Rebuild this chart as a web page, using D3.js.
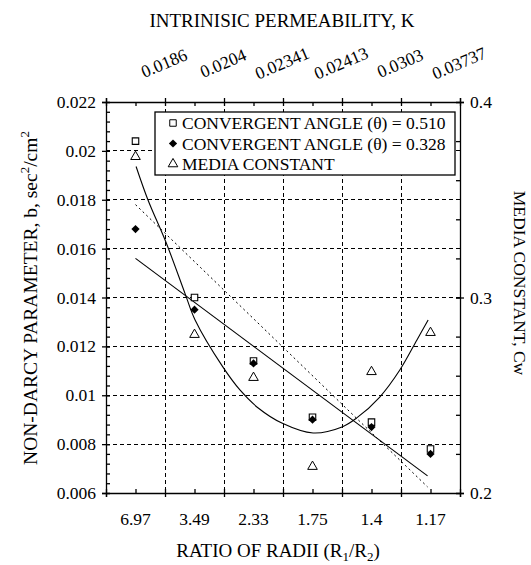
<!DOCTYPE html>
<html>
<head>
<meta charset="utf-8">
<script src="https://cdn.jsdelivr.net/npm/d3@7"></script>
<style>
  body { margin: 0; background: #fff; }
  svg text { font-family: "Liberation Serif", "DejaVu Serif", serif; fill: #000; }
</style>
</head>
<body>
<div id="chart"></div>
<script>
// ratio of radii (bottom axis) and permeability (top axis)
var ratioLabels = ["6.97", "3.49", "2.33", "1.75", "1.4", "1.17"];
var permLabels = ["0.0186", "0.0204", "0.02341", "0.02413", "0.0303", "0.03737"];

// non-darcy parameter b, left axis
var bTheta510 = [0.0204, 0.0140, 0.0114, 0.0091, 0.0089, 0.0078];
var bTheta328 = [0.0168, 0.0135, 0.0113, 0.0090, 0.0087, 0.0076];
// media constant Cw, right axis
var mediaConst = [0.372, 0.281, 0.259, 0.2135, 0.262, 0.282];

// trend lines (ends at first and last ratio)
var fitEnds = [0.5, 5.45];
var fit510 = [0.0178, 0.00625];
var fit328 = [0.0156, 0.0067];
// fitted curve of media constant
var curvePos = [0.51, 0.71, 1.02, 1.34, 1.51, 1.98, 2.27, 2.58, 2.98, 3.51, 4.0, 4.25, 4.64, 4.98, 5.27, 5.46];
var curveCw  = [0.367, 0.350, 0.328, 0.302, 0.2885, 0.2645, 0.2527, 0.2435, 0.2358, 0.2307, 0.2338, 0.2384, 0.2491, 0.2629, 0.2783, 0.2885];

var W = 531, H = 565;
var pLeft = 106, pRight = 460, pTop = 102, pBottom = 493;

var svg = d3.select("#chart").append("svg")
    .attr("width", W)
    .attr("height", H);

var x = d3.scaleLinear().domain([0, 6]).range([pLeft, pRight]);
var y = d3.scaleLinear().domain([0.006, 0.022]).range([pBottom, pTop]);
var y2 = d3.scaleLinear().domain([0.2, 0.4]).range([pBottom, pTop]);

var fs = 17;

// grid
var grid = svg.append("g")
    .attr("stroke", "#000")
    .attr("stroke-width", 1)
    .attr("stroke-dasharray", "4,3")
    .attr("shape-rendering", "crispEdges");
d3.range(1, 6).forEach(function(i) {
    grid.append("line")
        .attr("x1", x(i)).attr("x2", x(i))
        .attr("y1", pTop).attr("y2", pBottom);
});
[0.008, 0.010, 0.012, 0.014, 0.016, 0.018, 0.020].forEach(function(v) {
    grid.append("line")
        .attr("x1", pLeft).attr("x2", pRight)
        .attr("y1", y(v)).attr("y2", y(v));
});

// axes
var xBottom = d3.axisBottom(x).tickValues(d3.range(0, 7)).tickSize(4).tickFormat("");
var xBottomMinor = d3.axisBottom(x).tickValues(d3.range(0.5, 6, 1)).tickSize(-4).tickFormat("");
var xTop = d3.axisTop(x).tickValues(d3.range(0, 7)).tickSize(4).tickFormat("");
var xTopMinor = d3.axisTop(x).tickValues(d3.range(0.5, 6, 1)).tickSize(-4).tickFormat("");

var leftMajor = d3.range(0, 9).map(function(i) { return 0.006 + i * 0.002; });
var leftMinor = d3.range(0, 41).map(function(i) { return 0.006 + i * 0.0004; });
var rightMajor = [0.2, 0.3, 0.4];
var rightMinor = d3.range(0, 11).map(function(i) { return 0.2 + i * 0.02; });

var yLeft = d3.axisLeft(y).tickValues(leftMajor).tickSize(4).tickPadding(6)
    .tickFormat(function(d) { return String(+d.toFixed(3)); });
var yLeftMinor = d3.axisLeft(y).tickValues(leftMinor).tickSize(-4).tickFormat("");
var yRight = d3.axisRight(y2).tickValues(rightMajor).tickSize(4).tickPadding(6)
    .tickFormat(function(d) { return String(+d.toFixed(1)); });
var yRightMinor = d3.axisRight(y2).tickValues(rightMinor).tickSize(-4).tickFormat("");

function styleAxis(g) {
    g.select(".domain").attr("stroke", "#000").attr("stroke-width", 1.3);
    g.selectAll(".tick line").attr("stroke", "#000").attr("stroke-width", 1.3);
    g.selectAll("text").attr("font-size", 17.5).attr("font-family", "Liberation Serif");
}

svg.append("g").attr("transform", "translate(0," + pBottom + ")").call(xBottom).call(styleAxis)
    .selectAll(".tick line").attr("y1", -4);
svg.append("g").attr("transform", "translate(0," + pBottom + ")").call(xBottomMinor).call(styleAxis)
    .select(".domain").remove();
svg.append("g").attr("transform", "translate(0," + pTop + ")").call(xTop).call(styleAxis)
    .selectAll(".tick line").attr("y1", 4);
svg.append("g").attr("transform", "translate(0," + pTop + ")").call(xTopMinor).call(styleAxis)
    .select(".domain").remove();

svg.append("g").attr("transform", "translate(" + pLeft + ",0)").call(yLeft).call(styleAxis)
    .selectAll(".tick line").attr("x1", 4);
svg.append("g").attr("transform", "translate(" + pLeft + ",0)").call(yLeftMinor).call(styleAxis)
    .select(".domain").remove();
svg.append("g").attr("transform", "translate(" + pRight + ",0)").call(yRight).call(styleAxis)
    .selectAll(".tick line").attr("x1", -4);
svg.append("g").attr("transform", "translate(" + pRight + ",0)").call(yRightMinor).call(styleAxis)
    .select(".domain").remove();

// bottom category labels
svg.append("g").selectAll("text")
    .data(ratioLabels)
  .enter().append("text")
    .attr("x", function(d, i) { return x(i + 0.5); })
    .attr("y", pBottom + 32)
    .attr("text-anchor", "middle")
    .attr("font-size", 17.5)
    .text(function(d) { return d; });

// top permeability labels, tilted
svg.append("g").selectAll("text")
    .data(permLabels)
  .enter().append("text")
    .attr("transform", function(d, i) { return "translate(" + (x(i + 1) - 1) + ",63) rotate(-23)"; })
    .attr("text-anchor", "middle")
    .attr("dy", "0.35em")
    .attr("font-size", 17.5)
    .text(function(d) { return d; });

// titles
svg.append("text")
    .attr("x", 282).attr("y", 27)
    .attr("text-anchor", "middle")
    .attr("font-size", 19)
    .text("INTRINISIC PERMEABILITY, K");

var xt = svg.append("text")
    .attr("x", 278).attr("y", 557)
    .attr("text-anchor", "middle")
    .attr("font-size", 19);
xt.append("tspan").text("RATIO OF RADII (R");
xt.append("tspan").attr("font-size", 13).attr("dy", 4).text("1");
xt.append("tspan").attr("dy", -4).text("/R");
xt.append("tspan").attr("font-size", 13).attr("dy", 4).text("2");
xt.append("tspan").attr("dy", -4).text(")");

var yt = svg.append("text")
    .attr("transform", "translate(37,298) rotate(-90)")
    .attr("text-anchor", "middle")
    .attr("font-size", 19.5);
yt.append("tspan").text("NON-DARCY PARAMETER, b, sec");
yt.append("tspan").attr("font-size", 13).attr("dy", -8).text("2");
yt.append("tspan").attr("dy", 8).text("/cm");
yt.append("tspan").attr("font-size", 13).attr("dy", -8).text("2");

svg.append("text")
    .attr("transform", "translate(514,283) rotate(90)")
    .attr("text-anchor", "middle")
    .attr("font-size", 17.5)
    .text("MEDIA CONSTANT, Cw");

// fit lines
var plot = svg.append("g");
var fitLine = d3.line()
    .x(function(d) { return x(d[0]); })
    .y(function(d) { return y(d[1]); });

plot.append("path")
    .datum(d3.zip(fitEnds, fit510))
    .attr("d", fitLine)
    .attr("fill", "none")
    .attr("stroke", "#000")
    .attr("stroke-width", 1)
    .attr("stroke-dasharray", "2,3");

plot.append("path")
    .datum(d3.zip(fitEnds, fit328))
    .attr("d", fitLine)
    .attr("fill", "none")
    .attr("stroke", "#000")
    .attr("stroke-width", 1.1);

plot.append("path")
    .datum(d3.zip(curvePos, curveCw))
    .attr("d", d3.line()
        .x(function(d) { return x(d[0]); })
        .y(function(d) { return y2(d[1]); })
        .curve(d3.curveCatmullRom))
    .attr("fill", "none")
    .attr("stroke", "#000")
    .attr("stroke-width", 1.1);

// markers
var sq = d3.symbol().type(d3.symbolSquare).size(42);
var dia = d3.symbol().type(d3.symbolSquare).size(34);
var tri = d3.symbol().type(d3.symbolTriangle).size(40);

plot.selectAll(".sq")
    .data(bTheta510)
  .enter().append("path")
    .attr("class", "sq")
    .attr("transform", function(d, i) { return "translate(" + x(i + 0.5) + "," + y(d) + ")"; })
    .attr("d", sq)
    .attr("fill", "#fff")
    .attr("stroke", "#000")
    .attr("stroke-width", 1.1);

plot.selectAll(".dia")
    .data(bTheta328)
  .enter().append("path")
    .attr("class", "dia")
    .attr("transform", function(d, i) { return "translate(" + x(i + 0.5) + "," + y(d) + ") rotate(45)"; })
    .attr("d", dia)
    .attr("fill", "#000");

plot.selectAll(".tri")
    .data(mediaConst)
  .enter().append("path")
    .attr("class", "tri")
    .attr("transform", function(d, i) { return "translate(" + x(i + 0.5) + "," + y2(d) + ")"; })
    .attr("d", tri)
    .attr("fill", "none")
    .attr("stroke", "#000")
    .attr("stroke-width", 1);

// legend
var legend = svg.append("g");
legend.append("rect")
    .attr("x", 155).attr("y", 112)
    .attr("width", 300).attr("height", 63)
    .attr("fill", "#fff")
    .attr("stroke", "#000")
    .attr("stroke-width", 1.3);

var legendItems = [
    {sym: sq, rot: 0, fill: "#fff", stroke: "#000", label: "CONVERGENT ANGLE (\u03B8) = 0.510"},
    {sym: dia, rot: 45, fill: "#000", stroke: "none", label: "CONVERGENT ANGLE (\u03B8) = 0.328"},
    {sym: tri, rot: 0, fill: "none", stroke: "#000", label: "MEDIA CONSTANT"}
];
legendItems.forEach(function(d, i) {
    var ly = 123 + i * 20.5;
    legend.append("path")
        .attr("transform", "translate(173," + ly + ") rotate(" + d.rot + ")")
        .attr("d", d.sym)
        .attr("fill", d.fill)
        .attr("stroke", d.stroke)
        .attr("stroke-width", 1);
    legend.append("text")
        .attr("x", 182).attr("y", ly + 6)
        .attr("font-size", 17.5)
        .text(d.label);
});
</script>
</body>
</html>
